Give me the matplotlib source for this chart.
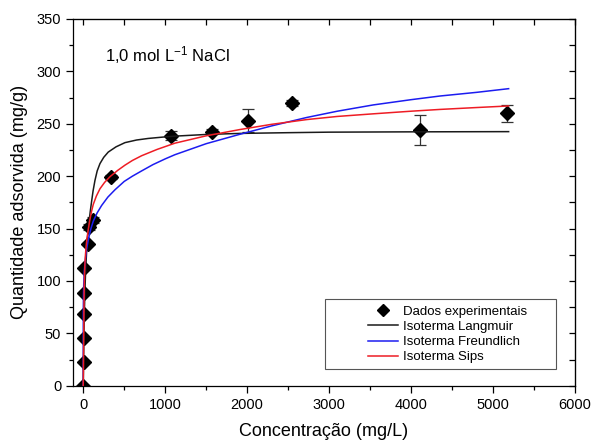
import numpy as np
from matplotlib import pyplot as plt
from matplotlib.patches import Rectangle
from matplotlib.lines import Line2D

plt.rcParams['font.family'] = ['Liberation Sans', 'DejaVu Sans']
plt.rcParams['mathtext.default'] = 'regular'

# experimental isotherm, 1,0 mol/L NaCl
conc = [0, 4, 6, 8, 10, 12, 60, 73, 115, 334, 1066, 1567, 2014, 2551, 4109, 5166]
qads = [0, 22.7, 45.4, 68, 88.6, 112.6, 135.6, 151.5, 158, 198.9, 238.8, 242.6, 253, 269.5, 244, 260]
qerr = [0, 0, 0, 0, 0, 0, 0, 3, 3, 2, 4.5, 2.5, 11, 3, 14, 8]

# fitted model curves
lang_c = [0, 2, 5, 10, 15, 20, 30, 41, 53, 70, 85, 102, 120, 143, 170, 204, 250, 305,
          400, 509, 650, 793, 1000, 1119, 1500, 1912, 2500, 3000, 4000, 5190]
lang_q = [0, 13, 31, 56, 75, 90, 112, 128, 142, 156, 166, 176, 186, 196, 205, 212, 218, 223,
          228, 232, 234.5, 236, 237.5, 238.2, 239.8, 240.8, 241.5, 242, 242.3, 242.5]

freu_c = [0, 0.2, 1, 3, 6, 10, 20, 40, 61, 90, 122, 170, 224, 300, 387, 500, 600, 712, 850,
          1000, 1119, 1500, 1912, 2300, 2726, 3100, 3539, 4000, 4353, 4800, 5190]
freu_q = [0, 55, 73, 87, 97, 105, 117, 130, 139, 149, 157, 165, 172, 180, 187, 195, 200, 205, 211,
          216.5, 220.5, 231, 240, 248, 256, 262, 268, 273, 276.5, 280, 283.5]

sips_c = [0, 3, 6, 9, 12, 16, 20, 27, 35, 46, 61, 80, 100, 122, 160, 204, 260, 326, 420, 509,
          600, 712, 900, 1119, 1500, 1912, 2300, 2726, 3100, 3539, 4000, 4353, 4800, 5190]
sips_q = [0, 25, 50, 75, 95, 107, 116, 125, 133, 141, 149, 158, 166, 173, 181, 188, 194, 199.5, 205.5, 210.5,
          215, 219.5, 225.5, 231.5, 238.5, 244.5, 249.5, 254, 257, 259.5, 262, 263.7, 265.5, 267]

fig = plt.figure(figsize=(5.95, 4.48), dpi=100)
ax = fig.add_axes([0.1227, 0.139, 0.8437, 0.8186])

ax.errorbar(conc, qads, yerr=qerr, fmt='D', color='black', ms=6.8,
            ecolor='#333333', elinewidth=0.9, capsize=4.5, capthick=0.9, zorder=2)
ax.plot(lang_c, lang_q, color='#1a1a1a', lw=1.1, zorder=3)
ax.plot(freu_c, freu_q, color='#1c1cf0', lw=1.1, zorder=3)
ax.plot(sips_c, sips_q, color='#ee1c24', lw=1.1, zorder=3)

ax.set_xlim(-125, 6000)
ax.set_ylim(0, 350)
ax.set_xticks(np.arange(0, 6001, 1000))
ax.set_xticks(np.arange(0, 6001, 500), minor=True)
ax.set_yticks(np.arange(0, 351, 50))
ax.set_yticks(np.arange(0, 351, 25), minor=True)
ax.tick_params(which='major', direction='out', length=5, width=0.9, labelsize=10.5)
ax.tick_params(which='minor', direction='out', length=3, width=0.9)
for s in ax.spines.values():
    s.set_linewidth(0.9)

# inward ticks on top and right
top = ax.secondary_xaxis('top')
top.set_xticks(np.arange(0, 6001, 1000))
top.set_xticks(np.arange(0, 6001, 500), minor=True)
top.tick_params(which='both', direction='in', length=4, width=0.9, labeltop=False)
right = ax.secondary_yaxis('right')
right.set_yticks(np.arange(0, 351, 50))
right.set_yticks(np.arange(0, 351, 25), minor=True)
right.tick_params(which='both', direction='in', length=4, width=0.9, labelright=False)

ax.set_xlabel('Concentração (mg/L)', fontsize=13, labelpad=8)
ax.set_ylabel('Quantidade adsorvida (mg/g)', fontsize=13, labelpad=6)

ax.text(0.063, 0.902, '1,0 mol L$^{-1}$ NaCl', transform=ax.transAxes,
        fontsize=12, ha='left', va='center')

ax.add_patch(Rectangle((0.502, 0.045), 0.46, 0.191, transform=ax.transAxes,
                       fill=True, facecolor='white', edgecolor='#555555', lw=0.8, zorder=4))
handles = [
    Line2D([], [], ls='none', marker='D', color='black', ms=6.5),
    Line2D([], [], color='#1a1a1a', lw=1.1),
    Line2D([], [], color='#1c1cf0', lw=1.1),
    Line2D([], [], color='#ee1c24', lw=1.1),
]
labels = ['Dados experimentais', 'Isoterma Langmuir', 'Isoterma Freundlich', 'Isoterma Sips']
leg = ax.legend(handles, labels, loc='lower left', bbox_to_anchor=(0.575, 0.045), frameon=False,
                fontsize=9.5, handlelength=2.3, handletextpad=0.4, labelspacing=0.22,
                borderaxespad=0.0, borderpad=0.45)
leg.set_zorder(5)

fig.savefig('out.png', dpi=100)
